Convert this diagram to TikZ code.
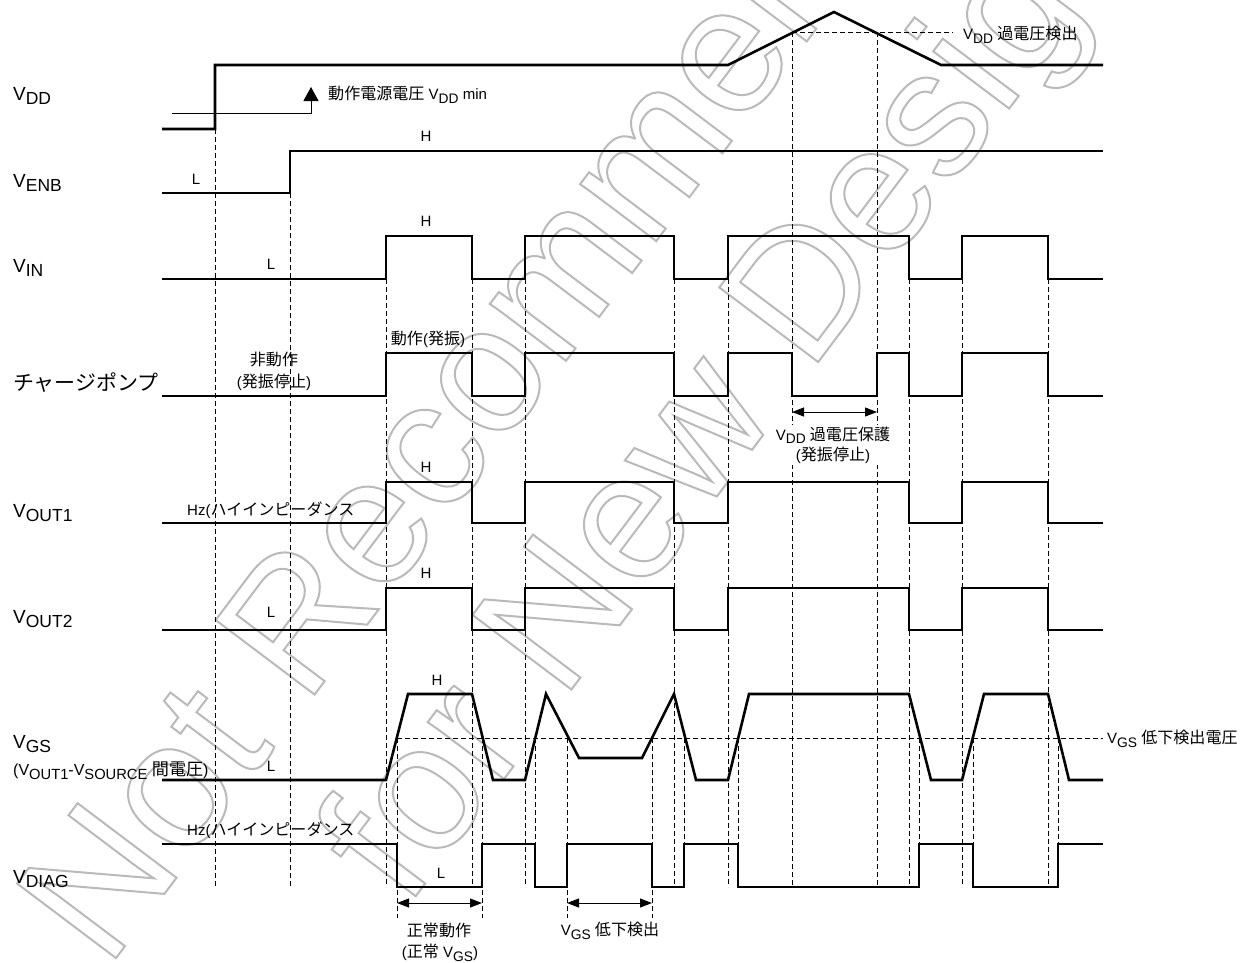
\documentclass[tikz,border=0pt]{standalone}
\usepackage{fontspec}
\setmainfont{Liberation Sans}
\newfontfamily\jp[Scale=1.07]{Noto Sans CJK JP}
\usepackage{graphicx}
\usetikzlibrary{arrows.meta}
\newcommand\lo[1]{\raisebox{-0.25em}{\scalebox{0.92}{#1}}}
\newcommand\hollow[1]{\special{pdf:literal direct 1 Tr 2 w}#1\special{pdf:literal direct 0 Tr}}
\begin{document}
\begin{tikzpicture}[x=1pt,y=-1pt,
  sig/.style={line width=2.6pt, line join=miter},
  vdash/.style={line width=1pt, dash pattern=on 5pt off 3pt},
  big/.style={font=\fontsize{19}{22}\selectfont, anchor=base west, inner sep=0pt},
  sm/.style={font=\fontsize{15}{20}\selectfont, inner sep=0pt},
  wm/.style={rotate=53, anchor=base west, inner sep=0pt, text=black!27,
             font=\fontsize{180}{180}\selectfont},
  dbl/.style={line width=1pt, {Triangle[length=12pt,width=9pt]}-{Triangle[length=12pt,width=9pt]}}
]
\fill[white] (0,0) rectangle (1246,962);
\useasboundingbox (0,0) rectangle (1246,962);

% ---------- watermark (hollow letters, behind the diagram) ----------
\begin{scope}
\clip (0,0) rectangle (1246,962);
\node[wm] (wmA) at (107,970) {\hollow{Not Recommended}};
\node[wm] (wmB) at (406,909) {\hollow{for New Design}};
\end{scope}

% ---------- vertical dashed guide lines ----------
\foreach \x/\a/\b in {215/129/887, 290/193/887, 386/279/887, 472/279/887, 525/279/887,
  674/279/887, 728/279/887, 792/32/887, 877/32/887, 909/279/887, 962/279/887, 1048/279/887,
  397/738/918, 482/738/918, 567/738/918, 652/738/918,
  535/738/887, 684/738/887, 738/738/887, 919/738/887, 973/738/887, 1058/738/887}
  \draw[vdash] (\x,\a) -- (\x,\b);
% horizontal dashed levels
\draw[vdash] (792,32) -- (953,32);
\draw[vdash] (397,738) -- (1103,738);

% ---------- left labels ----------
\node[big] (lvdd) at (13,100) {V\lo{DD}};
\node[big] (lvenb) at (13,187) {V\lo{ENB}};
\node[big] (lvin) at (13,272) {V\lo{IN}};
\node[font=\fontsize{19.6}{22}\selectfont, anchor=west, inner sep=0pt] (lcp) at (13,383) {\jp チャージポンプ};
\node[big] (lout1) at (13,517) {V\lo{OUT1}};
\node[big] (lout2) at (13,623) {V\lo{OUT2}};
\node[big] (lvgs) at (13,748) {V\lo{GS}};
\node[font=\fontsize{16}{18}\selectfont, anchor=base west, inner sep=0pt] (lvgs2) at (13,775) {(V\lo{OUT1}-V\lo{SOURCE} {\jp 間電圧})};
\node[big] (ldiag) at (13,883) {V\lo{DIAG}};

% ---------- waveforms ----------
% VDD
\draw[sig] (162,129) -- (215,129) -- (215,65) -- (728,65) -- (834,12) -- (941,65) -- (1103,65);
% VENB
\draw[sig] (162,193) -- (290,193) -- (290,151) -- (1103,151);
% VIN
\draw[sig] (162,279) -- (386,279) -- (386,236) -- (472,236) -- (472,279) -- (525,279) -- (525,236)
  -- (674,236) -- (674,279) -- (728,279) -- (728,236) -- (909,236) -- (909,279) -- (962,279)
  -- (962,236) -- (1048,236) -- (1048,279) -- (1103,279);
% charge pump
\draw[sig] (162,396) -- (386,396) -- (386,353) -- (472,353) -- (472,396) -- (525,396) -- (525,353)
  -- (674,353) -- (674,396) -- (728,396) -- (728,353) -- (792,353) -- (792,396) -- (877,396)
  -- (877,353) -- (909,353) -- (909,396) -- (962,396) -- (962,353) -- (1048,353) -- (1048,396) -- (1103,396);
% VOUT1
\draw[sig] (162,523) -- (386,523) -- (386,482) -- (472,482) -- (472,523) -- (525,523) -- (525,482)
  -- (674,482) -- (674,523) -- (728,523) -- (728,482) -- (909,482) -- (909,523) -- (962,523)
  -- (962,482) -- (1048,482) -- (1048,523) -- (1103,523);
% VOUT2
\draw[sig] (162,630) -- (386,630) -- (386,588) -- (472,588) -- (472,630) -- (525,630) -- (525,588)
  -- (674,588) -- (674,630) -- (728,630) -- (728,588) -- (909,588) -- (909,630) -- (962,630)
  -- (962,588) -- (1048,588) -- (1048,630) -- (1103,630);
% VGS
\draw[sig] (162,780) -- (386,780) -- (408,694) -- (472,694) -- (493,780) -- (525,780) -- (546,694)
  -- (579,758) -- (642,758) -- (674,694) -- (696,780) -- (728,780) -- (749,694) -- (909,694)
  -- (931,780) -- (962,780) -- (984,694) -- (1048,694) -- (1069,780) -- (1103,780);
% VDIAG
\draw[sig] (162,844) -- (397,844) -- (397,887) -- (482,887) -- (482,844) -- (535,844) -- (535,887)
  -- (567,887) -- (567,844) -- (652,844) -- (652,887) -- (684,887) -- (684,844) -- (738,844)
  -- (738,887) -- (919,887) -- (919,844) -- (973,844) -- (973,887) -- (1058,887) -- (1058,844) -- (1103,844);

% ---------- annotations ----------
\coordinate (minS) at (172,113);
\coordinate (minT) at (311,87);
\draw[line width=1pt, -{Triangle[length=14pt,width=15pt]}] (minS) -| (minT);
\node[sm, anchor=west] (vddmin) at (328,94.5) {{\jp 動作電源電圧} V\lo{DD} min};
\node[sm, anchor=west] (ovdet) at (963,35) {V\lo{DD} {\jp 過電圧検出}};

\node[sm] (hEnb) at (426,136) {H};
\node[sm] (lEnb) at (196,179) {L};
\node[sm] (lIn) at (271,264) {L};
\node[sm] (hIn) at (426,221) {H};

\node[sm] (nonop) at (274,360) {\jp 非動作};
\node[sm] (nonop2) at (274,382) {({\jp 発振停止})};
\node[sm] (op) at (428,339) {{\jp 動作}({\jp 発振})};
\node[sm, fill=white, inner sep=2pt, align=center] (ovp) at (833,445) {V\lo{DD} {\jp 過電圧保護}\\({\jp 発振停止})};
\coordinate (ovpL) at (792,412);
\coordinate (ovpR) at (877,412);
\draw[dbl] (ovpL) -- (ovpR);

\node[sm, anchor=west] (hz1) at (187,510) {Hz({\jp ハイインピーダンス}};
\node[sm] (hOut1) at (426,467) {H};
\node[sm] (lOut2) at (271,612) {L};
\node[sm] (hOut2) at (426,573) {H};

\node[sm] (hGs) at (437,680) {H};
\node[sm] (lGs) at (271,766) {L};
\node[sm, anchor=west] (thr) at (1107,739) {V\lo{GS} {\jp 低下検出電圧}};

\node[sm, anchor=west] (hz2) at (187,830) {Hz({\jp ハイインピーダンス}};
\node[sm] (lDiag) at (441,873) {L};

\coordinate (nA) at (397,903);
\coordinate (nB) at (482,903);
\draw[dbl] (nA) -- (nB);
\node[sm] (norm1) at (439,930) {\jp 正常動作};
\node[sm] (norm2) at (440,953) {({\jp 正常} V\lo{GS})};
\coordinate (gA) at (567,903);
\coordinate (gB) at (652,903);
\draw[dbl] (gA) -- (gB);
\node[sm] (gsdet) at (610,931) {V\lo{GS} {\jp 低下検出}};
\end{tikzpicture}
\end{document}
